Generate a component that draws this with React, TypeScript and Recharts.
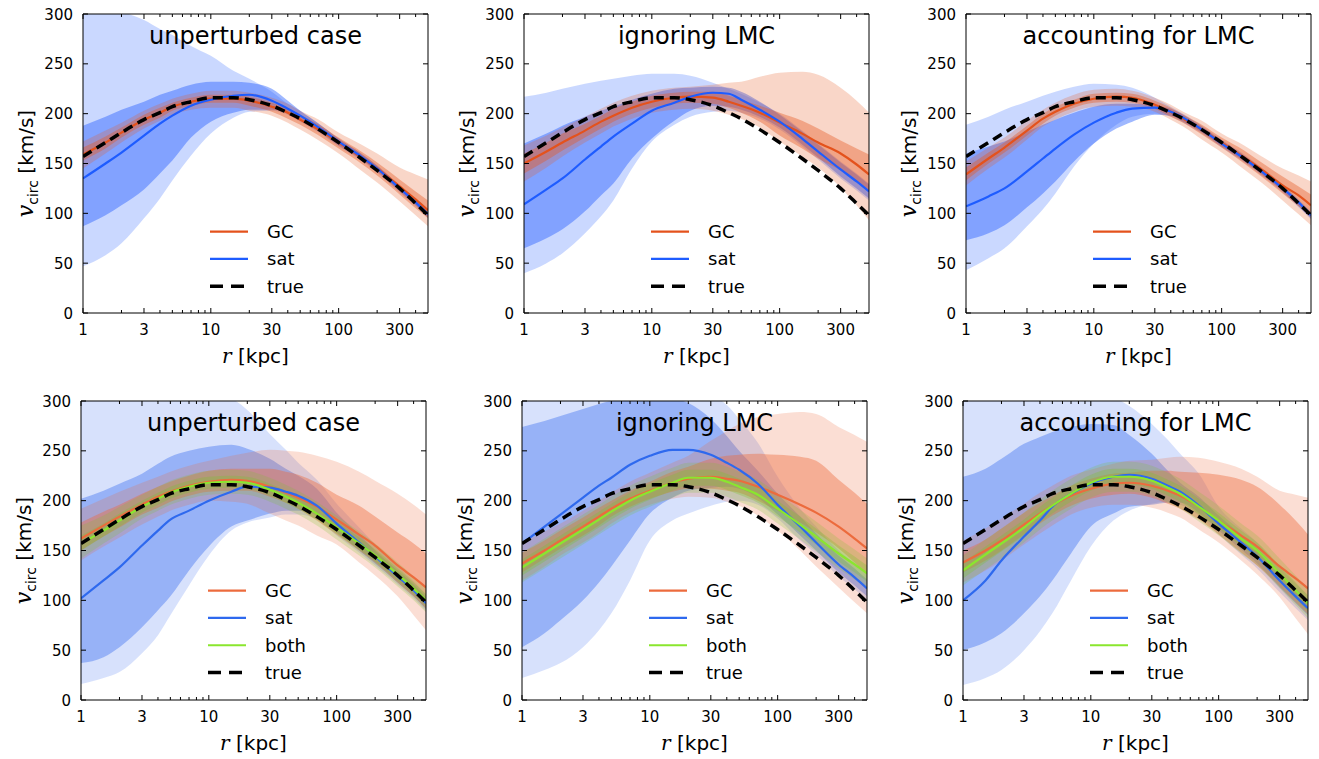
import React from "react";
import { ComposedChart, Area, Line, XAxis, YAxis, Legend } from "recharts";

// radius grid (kpc), shared by every panel
const R = [1, 1.5, 2, 3, 4, 5, 7, 10, 15, 20, 30, 40, 50, 70, 100, 150, 200, 300, 400, 500];

// true circular velocity curve (km/s)
const TRUE_V = [157, 171, 181, 194, 201, 207, 212, 216, 216, 214, 208, 201, 195, 184, 171, 155, 143, 125, 110, 98];

// --- top left: unperturbed case ---
const aGC = [159, 171, 181, 194, 201, 207, 212, 215, 215, 213, 207, 201, 194, 184, 171, 156, 145, 127, 114, 103];
const aGCinLo = [153, 165, 176, 189, 196, 203, 208, 211, 211, 208, 202, 195, 189, 178, 165, 150, 138, 119, 105, 95];
const aGCinHi = [166, 177, 186, 199, 206, 211, 216, 219, 219, 217, 211, 205, 199, 189, 176, 162, 151, 134, 122, 113];
const aGCoutLo = [145, 160, 171, 185, 193, 199, 204, 206, 206, 203, 198, 191, 184, 173, 160, 143, 131, 112, 98, 87];
const aGCoutHi = [172, 183, 191, 203, 210, 215, 220, 223, 223, 221, 216, 210, 203, 194, 181, 169, 160, 146, 139, 134];
const aSat = [135, 150, 161, 178, 190, 198, 208, 214, 218, 219, 213, 205, 198, 186, 172, 157, 145, 125, 111, 99];
const aSatInLo = [87, 98, 108, 124, 140, 153, 176, 192, 201, 204, 204, 200, 193, 182, 168, 154, 142, 122, 108, 96];
const aSatInHi = [188, 197, 204, 212, 219, 223, 229, 232, 232, 231, 225, 213, 203, 190, 175, 160, 148, 128, 114, 102];
const aSatOutLo = [47, 58, 70, 95, 115, 133, 158, 180, 196, 202, 203, 199, 192, 181, 167, 153, 141, 121, 107, 95];
const aSatOutHi = [305, 305, 302, 294, 285, 279, 268, 258, 243, 235, 222, 210, 203, 190, 175, 160, 148, 128, 114, 102];

// --- top middle: ignoring LMC ---
const bGC = [150, 162, 171, 183, 192, 198, 206, 212, 216, 217, 216, 212, 208, 201, 191, 180, 171, 160, 149, 139];
const bGCinLo = [140, 153, 163, 176, 185, 192, 200, 206, 210, 211, 210, 206, 201, 192, 178, 165, 155, 143, 132, 122];
const bGCinHi = [160, 171, 180, 190, 198, 205, 212, 218, 221, 222, 222, 218, 214, 208, 201, 193, 185, 173, 165, 159];
const bGCoutLo = [132, 146, 157, 171, 180, 187, 195, 201, 204, 205, 203, 199, 195, 186, 172, 157, 146, 126, 108, 93];
const bGCoutHi = [168, 178, 186, 197, 205, 211, 218, 223, 226, 227, 229, 231, 232, 237, 241, 242, 239, 226, 213, 201];
const bSat = [109, 124, 135, 154, 167, 177, 190, 203, 211, 217, 221, 220, 214, 204, 192, 175, 162, 144, 132, 122];
const bSatInLo = [65, 75, 84, 102, 118, 130, 155, 175, 193, 203, 208, 207, 204, 197, 186, 169, 156, 137, 125, 115];
const bSatInHi = [170, 180, 188, 197, 203, 207, 214, 220, 225, 226, 227, 226, 222, 212, 199, 182, 169, 151, 139, 129];
const bSatOutLo = [40, 50, 60, 80, 97, 113, 145, 172, 189, 197, 202, 203, 201, 195, 184, 167, 154, 135, 123, 113];
const bSatOutHi = [217, 221, 225, 230, 233, 235, 238, 240, 240, 238, 231, 225, 220, 211, 200, 183, 170, 152, 140, 130];

// --- top right: accounting for LMC ---
const cGC = [139, 155, 166, 183, 195, 202, 210, 215, 217, 216, 209, 202, 195, 184, 171, 156, 145, 128, 118, 108];
const cGCinLo = [133, 150, 161, 178, 190, 198, 206, 211, 212, 211, 205, 197, 191, 179, 166, 150, 138, 120, 107, 97];
const cGCinHi = [146, 161, 171, 188, 200, 207, 214, 220, 221, 220, 213, 206, 199, 189, 176, 163, 152, 137, 127, 119];
const cGCoutLo = [128, 145, 156, 174, 187, 194, 202, 207, 208, 207, 202, 194, 187, 174, 161, 144, 132, 113, 99, 88];
const cGCoutHi = [152, 166, 176, 193, 204, 211, 219, 224, 225, 223, 216, 209, 202, 193, 180, 168, 158, 145, 138, 132];
const cSat = [107, 117, 125, 142, 155, 165, 179, 191, 201, 205, 206, 202, 196, 184, 170, 155, 143, 125, 111, 98];
const cSatInLo = [73, 80, 88, 106, 120, 132, 152, 170, 185, 192, 199, 198, 192, 181, 167, 152, 140, 122, 107, 95];
const cSatInHi = [160, 167, 172, 182, 189, 194, 201, 207, 210, 210, 208, 205, 199, 187, 173, 158, 146, 128, 113, 101];
const cSatOutLo = [43, 55, 65, 87, 104, 120, 147, 170, 189, 197, 200, 197, 191, 180, 166, 151, 139, 121, 106, 94];
const cSatOutHi = [189, 197, 204, 212, 218, 222, 227, 230, 229, 226, 216, 207, 200, 188, 174, 159, 147, 129, 114, 102];

// --- bottom left: unperturbed case ---
const dGC = [162, 175, 184, 196, 204, 209, 215, 219, 221, 220, 214, 208, 203, 194, 181, 166, 155, 135, 123, 113];
const dGCinLo = [150, 164, 173, 186, 193, 199, 205, 209, 210, 210, 204, 198, 192, 180, 166, 150, 138, 118, 104, 92];
const dGCinHi = [178, 189, 196, 207, 214, 219, 225, 230, 232, 232, 232, 229, 226, 218, 206, 195, 184, 168, 157, 147];
const dGCoutLo = [140, 154, 163, 176, 184, 190, 196, 200, 199, 197, 187, 180, 175, 165, 156, 138, 125, 104, 85, 70];
const dGCoutHi = [192, 202, 209, 218, 224, 229, 235, 240, 245, 248, 251, 250, 249, 245, 239, 229, 220, 207, 196, 186];
const dSat = [102, 120, 133, 155, 170, 181, 190, 200, 209, 214, 213, 209, 205, 195, 177, 158, 144, 124, 110, 97];
const dSatInLo = [37, 43, 53, 73, 90, 104, 130, 154, 174, 180, 187, 190, 190, 185, 168, 150, 137, 118, 104, 91];
const dSatInHi = [202, 210, 217, 227, 237, 244, 250, 254, 256, 252, 242, 232, 225, 212, 188, 166, 150, 130, 116, 103];
const dSatOutLo = [16, 22, 28, 47, 65, 85, 115, 145, 170, 178, 183, 186, 186, 181, 165, 148, 135, 116, 102, 89];
const dSatOutHi = [305, 305, 305, 305, 305, 305, 305, 305, 302, 291, 267, 251, 238, 221, 197, 173, 156, 134, 119, 106];
const dBoth = [157, 170, 180, 194, 202, 208, 214, 218, 219, 218, 211, 204, 198, 187, 173, 157, 145, 126, 112, 100];
const dBothInLo = [150, 164, 174, 188, 196, 202, 208, 212, 213, 212, 205, 198, 192, 181, 167, 151, 139, 120, 106, 94];
const dBothInHi = [165, 177, 187, 200, 208, 214, 220, 224, 225, 224, 217, 210, 204, 193, 179, 163, 151, 132, 118, 106];
const dBothOutLo = [142, 157, 167, 182, 190, 196, 202, 206, 207, 206, 199, 192, 186, 175, 161, 145, 133, 114, 100, 88];
const dBothOutHi = [175, 185, 194, 206, 214, 220, 226, 230, 231, 230, 223, 216, 210, 199, 185, 169, 157, 138, 124, 112];

// --- bottom middle: ignoring LMC ---
const eGC = [137, 150, 160, 174, 184, 192, 202, 210, 218, 222, 224, 222, 220, 214, 206, 196, 188, 174, 162, 152];
const eGCinLo = [128, 142, 152, 165, 175, 184, 194, 202, 209, 212, 212, 210, 208, 200, 190, 178, 168, 152, 138, 126];
const eGCinHi = [148, 160, 170, 183, 193, 200, 210, 219, 229, 234, 242, 245, 246, 247, 246, 244, 240, 221, 208, 197];
const eGCoutLo = [120, 134, 145, 158, 168, 177, 188, 196, 202, 204, 203, 199, 195, 185, 170, 150, 134, 113, 98, 87];
const eGCoutHi = [158, 169, 177, 190, 200, 208, 219, 228, 238, 245, 260, 270, 277, 284, 287, 289, 287, 274, 266, 259];
const eSat = [157, 174, 186, 203, 215, 223, 236, 245, 251, 251, 246, 238, 231, 217, 196, 174, 158, 136, 123, 112];
const eSatInLo = [53, 67, 80, 100, 118, 134, 160, 187, 203, 210, 213, 214, 212, 203, 186, 165, 150, 128, 115, 104];
const eSatInHi = [274, 280, 285, 292, 297, 300, 302, 302, 302, 298, 282, 265, 250, 230, 207, 184, 167, 145, 132, 121];
const eSatOutLo = [22, 30, 37, 53, 70, 87, 120, 160, 180, 187, 195, 199, 200, 196, 182, 160, 146, 124, 111, 100];
const eSatOutHi = [305, 305, 305, 305, 305, 305, 305, 305, 305, 305, 305, 296, 282, 258, 224, 192, 174, 150, 137, 126];
const eBoth = [133, 147, 157, 171, 181, 189, 200, 209, 218, 223, 223, 219, 214, 206, 192, 176, 164, 147, 136, 127];
const eBothInLo = [125, 139, 149, 163, 173, 181, 192, 201, 210, 215, 215, 211, 206, 198, 184, 168, 156, 139, 128, 119];
const eBothInHi = [141, 155, 165, 179, 189, 197, 208, 217, 226, 231, 231, 227, 222, 214, 200, 184, 172, 155, 144, 135];
const eBothOutLo = [118, 132, 142, 156, 166, 174, 185, 194, 203, 208, 208, 204, 199, 191, 177, 161, 149, 132, 121, 112];
const eBothOutHi = [148, 162, 172, 186, 196, 204, 215, 224, 233, 238, 238, 234, 229, 221, 207, 191, 179, 162, 151, 142];

// --- bottom right: accounting for LMC ---
const fGC = [138, 150, 160, 176, 187, 195, 205, 212, 217, 218, 215, 210, 205, 194, 180, 165, 154, 134, 122, 112];
const fGCinLo = [128, 140, 150, 166, 177, 185, 195, 202, 206, 207, 203, 197, 192, 181, 166, 148, 135, 114, 98, 86];
const fGCinHi = [150, 161, 172, 188, 198, 205, 215, 222, 227, 228, 230, 230, 229, 228, 226, 221, 214, 196, 180, 166];
const fGCoutLo = [118, 130, 140, 156, 167, 175, 186, 193, 196, 196, 193, 188, 183, 171, 158, 140, 126, 103, 82, 66];
const fGCoutHi = [160, 172, 182, 197, 208, 215, 225, 231, 237, 240, 241, 243, 244, 243, 239, 232, 224, 210, 206, 203];
const fSat = [100, 120, 140, 164, 180, 194, 207, 217, 224, 226, 222, 215, 209, 195, 177, 158, 144, 120, 104, 92];
const fSatInLo = [50, 58, 67, 87, 104, 120, 147, 174, 187, 194, 196, 198, 198, 188, 170, 151, 137, 113, 97, 85];
const fSatInHi = [224, 232, 242, 257, 264, 269, 274, 277, 276, 266, 247, 230, 218, 204, 185, 166, 152, 128, 112, 100];
const fSatOutLo = [15, 22, 30, 50, 69, 87, 120, 154, 180, 190, 197, 199, 196, 185, 166, 146, 132, 108, 92, 80];
const fSatOutHi = [305, 305, 305, 305, 305, 305, 305, 305, 303, 295, 277, 261, 247, 227, 194, 172, 158, 133, 117, 105];
const fBoth = [130, 146, 157, 173, 186, 195, 207, 218, 224, 224, 220, 213, 207, 194, 180, 162, 150, 127, 110, 97];
const fBothInLo = [122, 138, 149, 165, 178, 187, 199, 210, 216, 216, 212, 205, 199, 186, 172, 154, 142, 119, 102, 89];
const fBothInHi = [138, 154, 165, 181, 194, 203, 215, 226, 232, 232, 228, 221, 215, 202, 188, 170, 158, 135, 118, 105];
const fBothOutLo = [115, 131, 142, 158, 171, 180, 192, 203, 209, 209, 205, 198, 192, 179, 165, 147, 135, 112, 95, 82];
const fBothOutHi = [145, 161, 172, 188, 201, 210, 222, 233, 239, 239, 235, 228, 222, 209, 195, 177, 165, 142, 125, 112];

const X_TICKS = [1, 2, 3, 4, 5, 6, 7, 8, 9, 10, 20, 30, 40, 50, 60, 70, 80, 90, 100, 200, 300, 400];
const X_MAJOR = [1, 3, 10, 30, 100, 300];
const Y_TICKS = [0, 50, 100, 150, 200, 250, 300];
const LEGEND_ORDER = ["GC", "sat", "both", "true"];

const FONT = "'DejaVu Sans', sans-serif";
const SERIF = "'DejaVu Serif', serif";

// plot geometry
const PLOT_W = 345;
const PLOT_H = 299;
const AX_L = 70;
const AX_B = 60;
const M_TOP = 10; // includes the 1px top axis
const M_RIGHT = 10; // includes the 1px right axis
const CHART_W = AX_L + PLOT_W + M_RIGHT;
const CHART_H = M_TOP + PLOT_H + AX_B;
const ROW = 27.3;

type Track = { line: number[]; inLo: number[]; inHi: number[]; outLo: number[]; outHi: number[] };
type Style = { gcLine: string; satLine: string; bothLine: string; blue: string; orange: string; green: string; blueOut: number; blueIn: number; orOut: number; orIn: number; grOut: number; grIn: number };

const TOP_STYLE: Style = {
    gcLine: "#e4521c", satLine: "#1e5cff", bothLine: "#8ae62e",
    blue: "#2a62ff", orange: "#e65a23", green: "#6fbf2a",
    blueOut: 0.25, blueIn: 0.45, orOut: 0.25, orIn: 0.4, grOut: 0.2, grIn: 0.3,
};
const BOTTOM_STYLE: Style = {
    gcLine: "#ec6b3d", satLine: "#2e69ee", bothLine: "#8ae62e",
    blue: "#2a62f0", orange: "#ec6b3d", green: "#7cc42c",
    blueOut: 0.19, blueIn: 0.37, orOut: 0.22, orIn: 0.42, grOut: 0.22, grIn: 0.3,
};

function XTickBottom(props: any) {
    const { x, y, payload } = props;
    const major = X_MAJOR.includes(payload.value);
    return (
        <g>
            <line x1={x} x2={x} y1={y} y2={y - (major ? 5 : 3)} stroke="#000" />
            {major && (
                <text x={x} y={y + 22} textAnchor="middle" fontSize={15} fontFamily={FONT} fill="#000">
                    {payload.value}
                </text>
            )}
        </g>
    );
}

function XTickTop(props: any) {
    const { x, y, payload } = props;
    const major = X_MAJOR.includes(payload.value);
    return <line x1={x} x2={x} y1={y} y2={y + (major ? 5 : 3)} stroke="#000" />;
}

function YTickLeft(props: any) {
    const { x, y, payload } = props;
    return (
        <g>
            <line x1={x} x2={x + 5} y1={y} y2={y} stroke="#000" />
            <text x={x - 10} y={y + 5.5} textAnchor="end" fontSize={15} fontFamily={FONT} fill="#000">
                {payload.value}
            </text>
        </g>
    );
}

function YTickRight(props: any) {
    const { x, y } = props;
    return <line x1={x} x2={x - 5} y1={y} y2={y} stroke="#000" />;
}

function LegendBox(props: any) {
    const items = (props.payload || []).filter((p: any) => p.type !== "none");
    return (
        <svg width={120} height={items.length * ROW} style={{ display: "block" }}>
            {items.map((it: any, i: number) => {
                const cy = ROW / 2 + i * ROW;
                const dash = it.payload?.strokeDasharray;
                return (
                    <g key={i}>
                        <line x1={0} x2={38} y1={cy} y2={cy} stroke={it.color} strokeWidth={dash ? 3.5 : 2.2} strokeDasharray={dash ? "13 8" : undefined} />
                        <text x={57} y={cy + 6.5} fontSize={18} fontFamily={FONT} fill="#000">
                            {it.value}
                        </text>
                    </g>
                );
            })}
        </svg>
    );
}

function Panel({ title, left, top, gc, sat, both, style }: {
    title: string; left: number; top: number; gc: Track; sat: Track; both?: Track; style: Style;
}) {
    const rows = R.map((r, i) => {
        const row: any = {
            r,
            truth: TRUE_V[i],
            gc: gc.line[i], gcIn: [gc.inLo[i], gc.inHi[i]], gcOut: [gc.outLo[i], gc.outHi[i]],
            sat: sat.line[i], satIn: [sat.inLo[i], sat.inHi[i]], satOut: [sat.outLo[i], sat.outHi[i]],
        };
        if (both) {
            row.both = both.line[i];
            row.bothIn = [both.inLo[i], both.inHi[i]];
            row.bothOut = [both.outLo[i], both.outHi[i]];
        }
        return row;
    });
    const nItems = both ? 4 : 3;
    const legendTop = M_TOP + (both ? 190 : 218) - ROW / 2;
    const band = (key: string, color: string, op: number) => (
        <Area key={key} dataKey={key} type="monotone" stroke="none" fill={color} fillOpacity={op}
            isAnimationActive={false} legendType="none" dot={false} activeDot={false} />
    );

    return (
        <div style={{ position: "absolute", left: left - AX_L, top: top - M_TOP }}>
            <ComposedChart width={CHART_W} height={CHART_H} data={rows}
                margin={{ top: M_TOP - 1, right: M_RIGHT - 1, bottom: 0, left: 0 }}>
                {band("satOut", style.blue, style.blueOut)}
                {band("satIn", style.blue, style.blueIn)}
                {band("gcOut", style.orange, style.orOut)}
                {band("gcIn", style.orange, style.orIn)}
                {both && band("bothOut", style.green, style.grOut)}
                {both && band("bothIn", style.green, style.grIn)}

                <Line dataKey="gc" name="GC" type="monotone" stroke={style.gcLine} strokeWidth={2.2} dot={false} activeDot={false} isAnimationActive={false} />
                <Line dataKey="sat" name="sat" type="monotone" stroke={style.satLine} strokeWidth={2.2} dot={false} activeDot={false} isAnimationActive={false} />
                {both && <Line dataKey="both" name="both" type="monotone" stroke={style.bothLine} strokeWidth={2.2} dot={false} activeDot={false} isAnimationActive={false} />}
                <Line dataKey="truth" name="true" type="monotone" stroke="#000" strokeWidth={3.5} strokeDasharray="10 6" dot={false} activeDot={false} isAnimationActive={false} />

                <XAxis dataKey="r" type="number" scale="log" domain={[1, 500]} allowDataOverflow
                    ticks={X_TICKS} interval={0} tickSize={0} tickMargin={0} tickLine={false}
                    axisLine={{ stroke: "#000" }} tick={(p: any) => <XTickBottom {...p} />} height={AX_B}
                    label={{
                        content: (p: any) => {
                            const vb = p.viewBox;
                            return (
                                <text x={vb.x + vb.width / 2} y={vb.y + 50} textAnchor="middle" fontSize={20} fontFamily={FONT} fill="#000">
                                    <tspan fontFamily={SERIF} fontStyle="italic">r</tspan>
                                    <tspan> [kpc]</tspan>
                                </text>
                            );
                        },
                    }} />
                <XAxis xAxisId="t" dataKey="r" type="number" scale="log" domain={[1, 500]} allowDataOverflow
                    orientation="top" ticks={X_TICKS} interval={0} tickSize={0} tickMargin={0} tickLine={false}
                    axisLine={{ stroke: "#000" }} tick={(p: any) => <XTickTop {...p} />} height={1}
                    label={{
                        content: (p: any) => {
                            const vb = p.viewBox;
                            return (
                                <text x={vb.x + vb.width / 2} y={vb.y + vb.height + 30} textAnchor="middle" fontSize={24} fontFamily={FONT} fill="#000">
                                    {title}
                                </text>
                            );
                        },
                    }} />
                <YAxis type="number" domain={[0, 300]} allowDataOverflow ticks={Y_TICKS} interval={0}
                    tickSize={0} tickMargin={0} tickLine={false} axisLine={{ stroke: "#000" }}
                    tick={(p: any) => <YTickLeft {...p} />} width={AX_L}
                    label={{
                        content: (p: any) => {
                            const vb = p.viewBox;
                            const cx = vb.x + vb.width - 50;
                            const cy = vb.y + vb.height / 2;
                            return (
                                <text transform={`rotate(-90, ${cx}, ${cy})`} x={cx} y={cy} textAnchor="middle" fontSize={20} fontFamily={FONT} fill="#000">
                                    <tspan fontFamily={SERIF} fontStyle="italic" fontSize={22}>v</tspan>
                                    <tspan fontSize={14} dy={5}>circ</tspan>
                                    <tspan dy={-5}> [km/s]</tspan>
                                </text>
                            );
                        },
                    }} />
                <YAxis yAxisId="r" orientation="right" type="number" domain={[0, 300]} allowDataOverflow
                    ticks={Y_TICKS} interval={0} tickSize={0} tickMargin={0} tickLine={false}
                    axisLine={{ stroke: "#000" }} tick={(p: any) => <YTickRight {...p} />} width={1} />

                <Legend layout="vertical" verticalAlign="middle" align="center" content={LegendBox}
                    itemSorter={(item: any) => LEGEND_ORDER.indexOf(item.value)}
                    wrapperStyle={{ left: AX_L + 127, top: legendTop, width: 120, height: nItems * ROW }} />
            </ComposedChart>
        </div>
    );
}

const track = (line: number[], inLo: number[], inHi: number[], outLo: number[], outHi: number[]): Track =>
    ({ line, inLo, inHi, outLo, outHi });

export default function App() {
    return (
        <div style={{ position: "absolute", left: 0, top: 0, width: 1319, height: 759, background: "#fff", overflow: "hidden" }}>
            <Panel title="unperturbed case" left={83} top={14} style={TOP_STYLE}
                gc={track(aGC, aGCinLo, aGCinHi, aGCoutLo, aGCoutHi)}
                sat={track(aSat, aSatInLo, aSatInHi, aSatOutLo, aSatOutHi)} />
            <Panel title="ignoring LMC" left={524} top={14} style={TOP_STYLE}
                gc={track(bGC, bGCinLo, bGCinHi, bGCoutLo, bGCoutHi)}
                sat={track(bSat, bSatInLo, bSatInHi, bSatOutLo, bSatOutHi)} />
            <Panel title="accounting for LMC" left={966} top={14} style={TOP_STYLE}
                gc={track(cGC, cGCinLo, cGCinHi, cGCoutLo, cGCoutHi)}
                sat={track(cSat, cSatInLo, cSatInHi, cSatOutLo, cSatOutHi)} />
            <Panel title="unperturbed case" left={80.5} top={400.7} style={BOTTOM_STYLE}
                gc={track(dGC, dGCinLo, dGCinHi, dGCoutLo, dGCoutHi)}
                sat={track(dSat, dSatInLo, dSatInHi, dSatOutLo, dSatOutHi)}
                both={track(dBoth, dBothInLo, dBothInHi, dBothOutLo, dBothOutHi)} />
            <Panel title="ignoring LMC" left={522} top={400.7} style={BOTTOM_STYLE}
                gc={track(eGC, eGCinLo, eGCinHi, eGCoutLo, eGCoutHi)}
                sat={track(eSat, eSatInLo, eSatInHi, eSatOutLo, eSatOutHi)}
                both={track(eBoth, eBothInLo, eBothInHi, eBothOutLo, eBothOutHi)} />
            <Panel title="accounting for LMC" left={963} top={400.7} style={BOTTOM_STYLE}
                gc={track(fGC, fGCinLo, fGCinHi, fGCoutLo, fGCoutHi)}
                sat={track(fSat, fSatInLo, fSatInHi, fSatOutLo, fSatOutHi)}
                both={track(fBoth, fBothInLo, fBothInHi, fBothOutLo, fBothOutHi)} />
        </div>
    );
}
